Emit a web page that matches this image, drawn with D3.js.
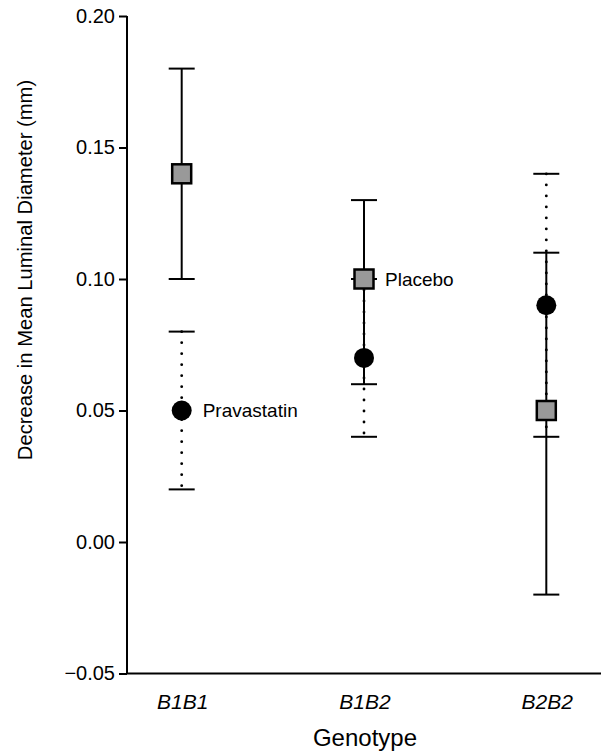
<!DOCTYPE html>
<html><head><meta charset="utf-8">
<script src="https://cdn.jsdelivr.net/npm/d3@7"></script>
<style>body{margin:0;background:#fff}svg{display:block}text{font-family:"Liberation Sans",Arial,sans-serif;fill:#000}</style>
</head><body><svg id="c" width="601" height="752"></svg>
<script>
const categories = ["B1B1", "B1B2", "B2B2"];
const placeboMean = [0.14, 0.10, 0.05];
const placeboLow  = [0.10, 0.06, -0.02];
const placeboHigh = [0.18, 0.13, 0.11];
const pravaMean = [0.05, 0.07, 0.09];
const pravaLow  = [0.02, 0.04, 0.04];
const pravaHigh = [0.08, 0.10, 0.14];
const yTicks = [-0.05, 0.00, 0.05, 0.10, 0.15, 0.20];
const seriesLabels = [{name:"Pravastatin", cat:0, series:"prava"}, {name:"Placebo", cat:1, series:"placebo"}];

const svg = d3.select("#c");
const x = d3.scaleLinear().domain([0.7, 3.3]).range([127, 601]);
const y = d3.scaleLinear().domain([-0.05, 0.20]).range([673.5, 16]);
const fmt = d3.format(".2f");

// y axis
const ya = svg.append("g").attr("transform","translate(127,0)")
  .call(d3.axisLeft(y).tickValues(yTicks).tickFormat(d=>fmt(d)).tickSize(8).tickPadding(4));
ya.select(".domain").attr("stroke-width",2).attr("d",`M0,${y(0.20)}V${y(-0.05)}`);
ya.selectAll(".tick line").attr("stroke-width",2);
ya.selectAll(".tick text").attr("font-size",20).style("font-family","'Liberation Sans',Arial,sans-serif");

// x axis line
svg.append("line").attr("x1",126).attr("x2",601).attr("y1",y(-0.05)).attr("y2",y(-0.05))
  .attr("stroke","#000").attr("stroke-width",2);
svg.selectAll(".cat").data(categories).join("text").attr("class","cat")
  .attr("x",(d,i)=>x(i+1)+1).attr("y",709).attr("text-anchor","middle")
  .attr("font-size",21).attr("font-style","italic").text(d=>d);

svg.append("text").attr("x",365).attr("y",746).attr("text-anchor","middle").attr("font-size",24).text("Genotype");
svg.append("text").attr("transform",`translate(32,270) rotate(-90)`)
  .attr("text-anchor","middle").attr("font-size",20.2).text("Decrease in Mean Luminal Diameter (mm)");

const capW = 13;
// placebo solid error bars
const pg = svg.append("g");
categories.forEach((c,i)=>{
  const cx = x(i+1);
  pg.append("line").attr("x1",cx).attr("x2",cx).attr("y1",y(placeboLow[i])).attr("y2",y(placeboHigh[i])).attr("stroke","#000").attr("stroke-width",2);
  [placeboLow[i], placeboHigh[i]].forEach(v=>pg.append("line").attr("x1",cx-capW).attr("x2",cx+capW).attr("y1",y(v)).attr("y2",y(v)).attr("stroke","#000").attr("stroke-width",2));
});
// pravastatin dotted error bars
const dg = svg.append("g");
categories.forEach((c,i)=>{
  const cx = x(i+1);
  dg.append("line").attr("x1",cx).attr("x2",cx).attr("y1",y(pravaHigh[i])).attr("y2",y(pravaLow[i]))
    .attr("stroke","#000").attr("stroke-width",2.8).attr("stroke-linecap","round").attr("stroke-dasharray","0.1,10.9");
  [pravaLow[i], pravaHigh[i]].forEach(v=>dg.append("line").attr("x1",cx-capW).attr("x2",cx+capW).attr("y1",y(v)).attr("y2",y(v)).attr("stroke","#000").attr("stroke-width",2));
});
// markers
svg.selectAll(".circ").data(pravaMean).join("circle").attr("class","circ")
  .attr("cx",(d,i)=>x(i+1)).attr("cy",d=>y(d)).attr("r",10).attr("fill","#000");
svg.selectAll(".sq").data(placeboMean).join("rect").attr("class","sq")
  .attr("x",(d,i)=>x(i+1)-9.5).attr("y",d=>y(d)-9.5).attr("width",19).attr("height",19)
  .attr("fill","#999").attr("stroke","#000").attr("stroke-width",2.5);

// series labels
seriesLabels.forEach(l=>{
  const v = l.series==="prava" ? pravaMean[l.cat] : placeboMean[l.cat];
  svg.append("text").attr("x",x(l.cat+1)+21).attr("y",y(v)).attr("dy","0.36em").attr("font-size",19).text(l.name);
});
</script></body></html>
